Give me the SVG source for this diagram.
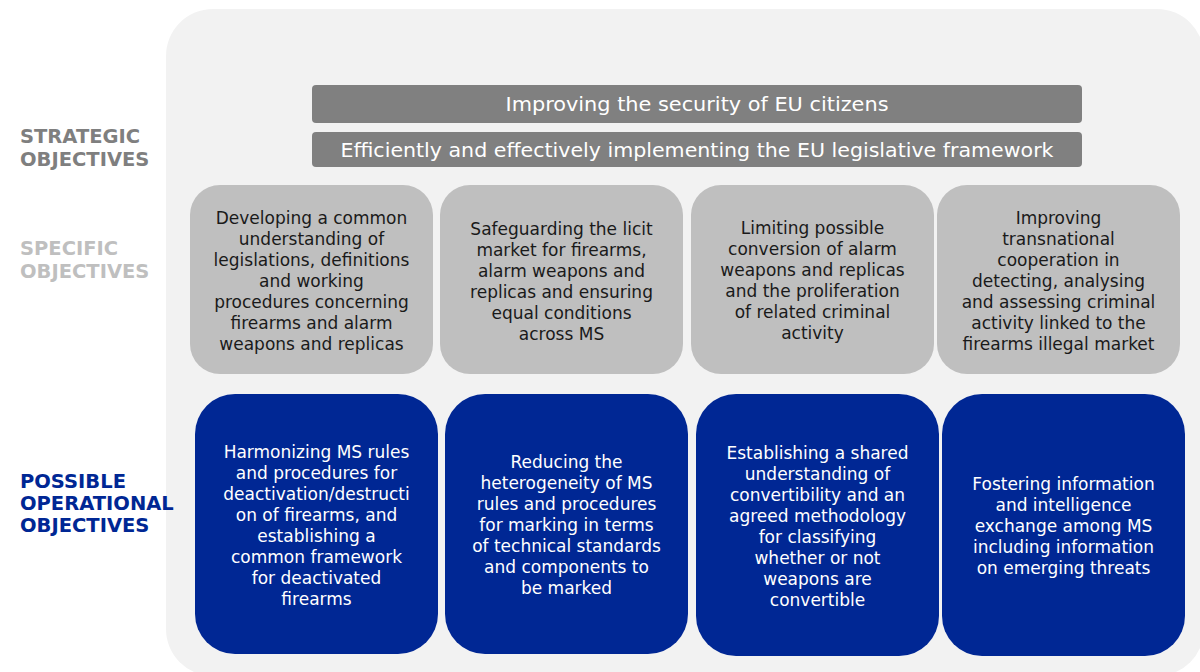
<svg xmlns="http://www.w3.org/2000/svg" width="1200" height="672" viewBox="0 0 1200 672">
<style>
.lbl{font-family:"DejaVu Sans",Verdana,sans-serif;font-weight:bold;font-size:19.5px}
.bar{fill:#808080}
.bt{font-family:"DejaVu Sans",Verdana,sans-serif;font-size:20px;fill:#ffffff;text-anchor:middle}
.spec{fill:#bfbfbf}
.st{font-family:"DejaVu Sans",Verdana,sans-serif;font-size:17px;fill:#1a1a1a;text-anchor:middle}
.op{fill:#002794}
.ot{font-family:"DejaVu Sans",Verdana,sans-serif;font-size:17px;fill:#ffffff;text-anchor:middle}
</style>
<rect width="1200" height="672" fill="#ffffff"/>
<rect id="panel" x="166" y="9" width="1038" height="667" rx="47" fill="#f2f2f2"/>
<g id="labels">
<text class="lbl" fill="#7f7f7f"><tspan x="20" y="143">STRATEGIC</tspan><tspan x="20" y="166">OBJECTIVES</tspan></text>
<text class="lbl" fill="#bfbfbf"><tspan x="20" y="255">SPECIFIC</tspan><tspan x="20" y="278">OBJECTIVES</tspan></text>
<text class="lbl" fill="#002794"><tspan x="20" y="488">POSSIBLE</tspan><tspan x="20" y="510">OPERATIONAL</tspan><tspan x="20" y="532">OBJECTIVES</tspan></text>
</g>
<g id="strategic1">
<rect class="bar" x="312" y="85" width="770" height="38" rx="4"/>
<text class="bt" x="697" y="111" textLength="383" lengthAdjust="spacingAndGlyphs">Improving the security of EU citizens</text>
</g>
<g id="strategic2">
<rect class="bar" x="312" y="132" width="770" height="35" rx="4"/>
<text class="bt" x="697" y="157" textLength="713" lengthAdjust="spacingAndGlyphs">Efficiently and effectively implementing the EU legislative framework</text>
</g>
<g id="spec1">
<rect class="spec" x="190" y="185" width="243" height="189" rx="30"/>
<text class="st"><tspan x="311.5" y="224">Developing a common</tspan><tspan x="311.5" y="245">understanding of</tspan><tspan x="311.5" y="266">legislations, definitions</tspan><tspan x="311.5" y="287">and working</tspan><tspan x="311.5" y="308">procedures concerning</tspan><tspan x="311.5" y="329">firearms and alarm</tspan><tspan x="311.5" y="350">weapons and replicas</tspan></text>
</g>
<g id="spec2">
<rect class="spec" x="440" y="185" width="243" height="189" rx="30"/>
<text class="st"><tspan x="561.5" y="235">Safeguarding the licit</tspan><tspan x="561.5" y="256">market for firearms,</tspan><tspan x="561.5" y="277">alarm weapons and</tspan><tspan x="561.5" y="298">replicas and ensuring</tspan><tspan x="561.5" y="319">equal conditions</tspan><tspan x="561.5" y="340">across MS</tspan></text>
</g>
<g id="spec3">
<rect class="spec" x="691" y="185" width="243" height="189" rx="30"/>
<text class="st"><tspan x="812.5" y="234">Limiting possible</tspan><tspan x="812.5" y="255">conversion of alarm</tspan><tspan x="812.5" y="276">weapons and replicas</tspan><tspan x="812.5" y="297">and the proliferation</tspan><tspan x="812.5" y="318">of related criminal</tspan><tspan x="812.5" y="339">activity</tspan></text>
</g>
<g id="spec4">
<rect class="spec" x="937" y="185" width="243" height="189" rx="30"/>
<text class="st"><tspan x="1058.5" y="224">Improving</tspan><tspan x="1058.5" y="245">transnational</tspan><tspan x="1058.5" y="266">cooperation in</tspan><tspan x="1058.5" y="287">detecting, analysing</tspan><tspan x="1058.5" y="308">and assessing criminal</tspan><tspan x="1058.5" y="329">activity linked to the</tspan><tspan x="1058.5" y="350">firearms illegal market</tspan></text>
</g>
<g id="op1">
<rect class="op" x="195" y="394" width="243" height="260" rx="40"/>
<text class="ot"><tspan x="316.5" y="458">Harmonizing MS rules</tspan><tspan x="316.5" y="479">and procedures for</tspan><tspan x="316.5" y="500">deactivation/destructi</tspan><tspan x="316.5" y="521">on of firearms, and</tspan><tspan x="316.5" y="542">establishing a</tspan><tspan x="316.5" y="563">common framework</tspan><tspan x="316.5" y="584">for deactivated</tspan><tspan x="316.5" y="605">firearms</tspan></text>
</g>
<g id="op2">
<rect class="op" x="445" y="394" width="243" height="260" rx="40"/>
<text class="ot"><tspan x="566.5" y="468">Reducing the</tspan><tspan x="566.5" y="489">heterogeneity of MS</tspan><tspan x="566.5" y="510">rules and procedures</tspan><tspan x="566.5" y="531">for marking in terms</tspan><tspan x="566.5" y="552">of technical standards</tspan><tspan x="566.5" y="573">and components to</tspan><tspan x="566.5" y="594">be marked</tspan></text>
</g>
<g id="op3">
<rect class="op" x="696" y="394" width="243" height="262" rx="40"/>
<text class="ot"><tspan x="817.5" y="459">Establishing a shared</tspan><tspan x="817.5" y="480">understanding of</tspan><tspan x="817.5" y="501">convertibility and an</tspan><tspan x="817.5" y="522">agreed methodology</tspan><tspan x="817.5" y="543">for classifying</tspan><tspan x="817.5" y="564">whether or not</tspan><tspan x="817.5" y="585">weapons are</tspan><tspan x="817.5" y="606">convertible</tspan></text>
</g>
<g id="op4">
<rect class="op" x="942" y="394" width="243" height="262" rx="40"/>
<text class="ot"><tspan x="1063.5" y="490">Fostering information</tspan><tspan x="1063.5" y="511">and intelligence</tspan><tspan x="1063.5" y="532">exchange among MS</tspan><tspan x="1063.5" y="553">including information</tspan><tspan x="1063.5" y="574">on emerging threats</tspan></text>
</g>
<g id="connectors"></g>
</svg>
